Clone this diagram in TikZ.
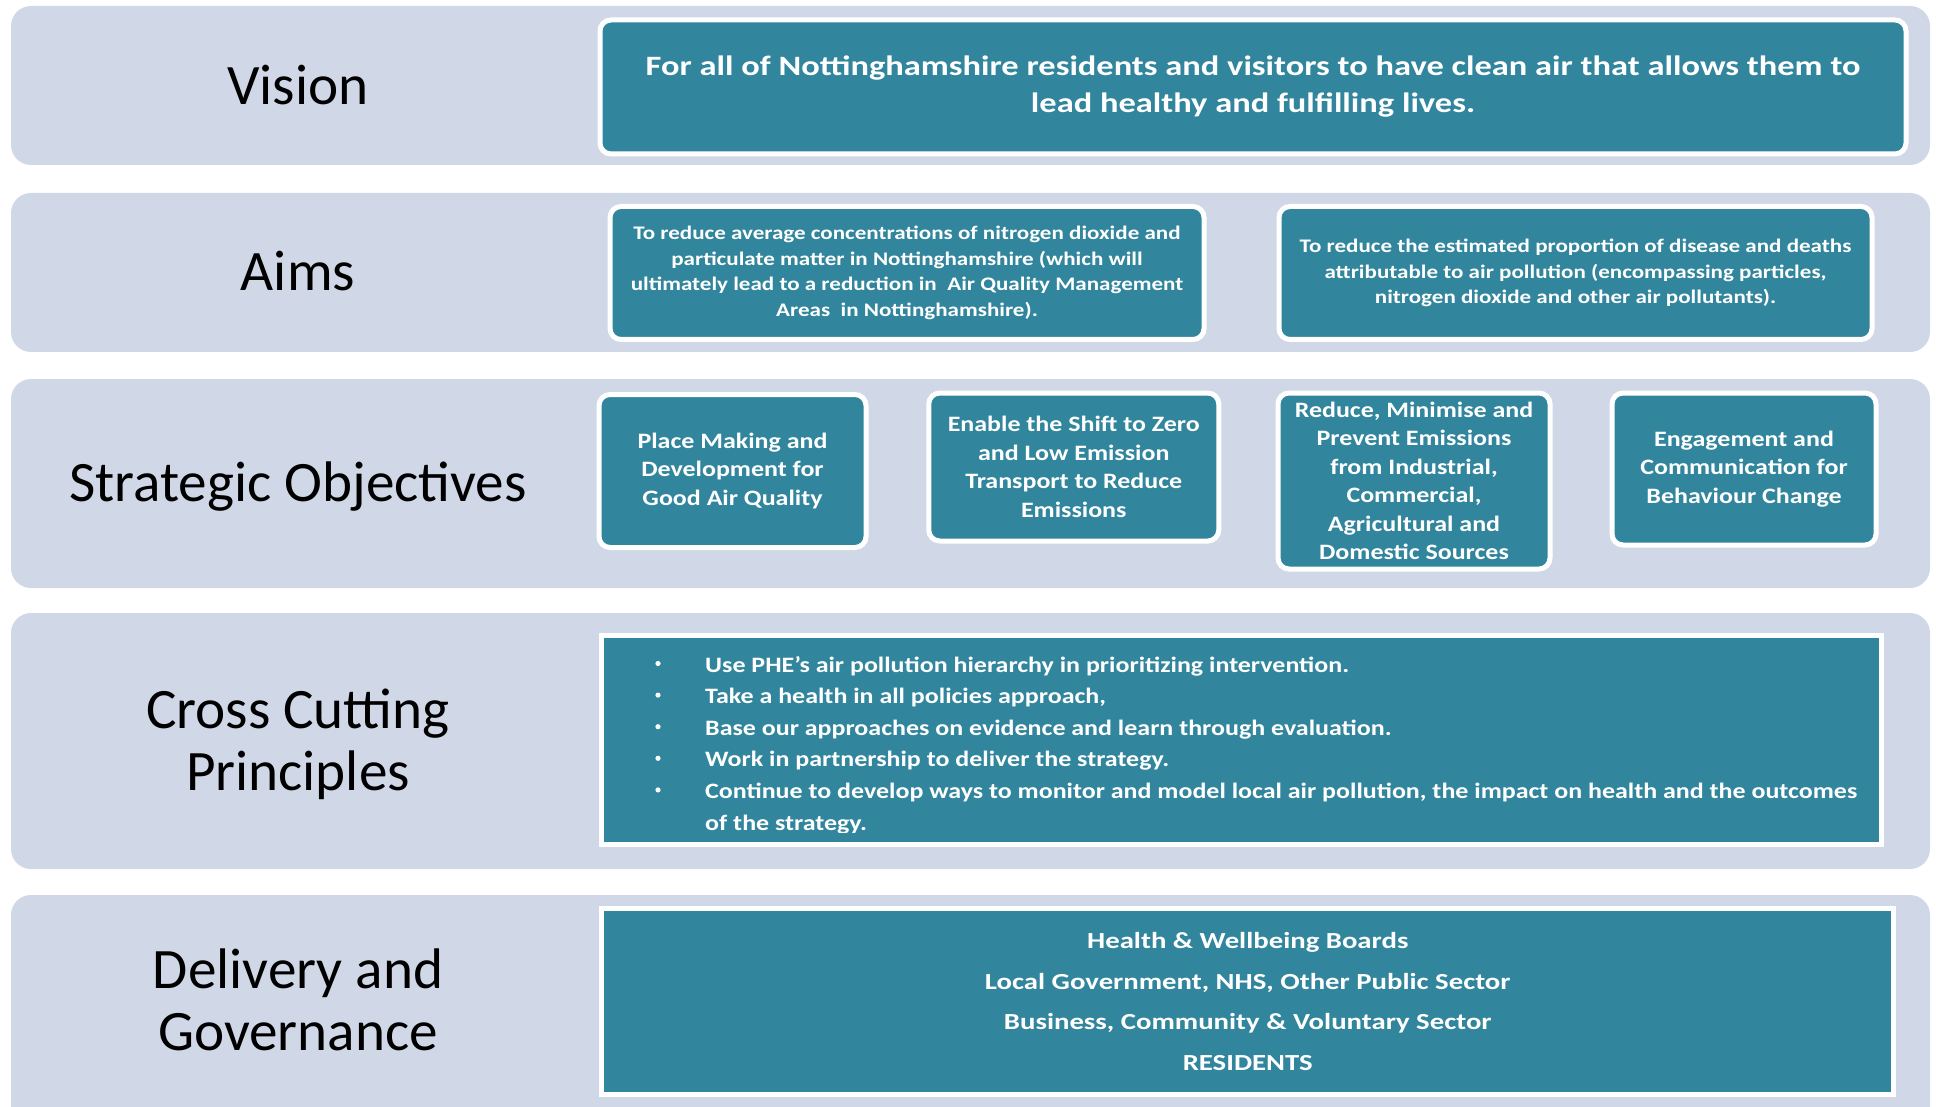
\documentclass[tikz,border=0pt]{standalone}
\usepackage{fontspec}
\setmainfont{Carlito}
\newfontfamily\stvis[FakeStretch=1.23]{Carlito}
\newfontfamily\staim[FakeStretch=1.2]{Carlito}
\newfontfamily\stso[FakeStretch=1.18]{Carlito}
\newfontfamily\stcc[FakeStretch=1.18]{Carlito}
\newfontfamily\stdg[FakeStretch=1.25]{Carlito}
\definecolor{bandc}{HTML}{D0D8E7}
\definecolor{boxteal}{HTML}{31859C}
\tikzset{
  bandbox/.style={fill=bandc, rounded corners=20pt},
  tbox/.style={fill=boxteal, draw=white, line width=5pt, rounded corners=11pt, inner sep=0pt, text=white, align=center},
  sbox/.style={fill=boxteal, draw=white, line width=5pt, inner sep=0pt, text=white},
  lbl/.style={font=\fontsize{57.2}{62}\selectfont, align=center, inner sep=0pt},
}
\begin{document}
\begin{tikzpicture}[x=1pt,y=-1pt]
\useasboundingbox (0,0) rectangle (1936,1107);
\clip (0,0) rectangle (1936,1107);
% bands
\fill[bandbox] (11,6) rectangle (1930,165);
\fill[bandbox] (11,193) rectangle (1930,352);
\fill[bandbox] (11,379) rectangle (1930,588);
\fill[bandbox] (11,613) rectangle (1930,869);
\fill[bandbox] (11,895) rectangle (1930,1140);
% labels
\node[lbl] (lvision) at (298,85) {Vision};
\node[lbl] (laims) at (298,271) {Aims};
\node[lbl] (lso) at (298,486.5) {Strategic Objectives};
\node[lbl] (lcc) at (298,744) {Cross Cutting\\Principles};
\node[lbl] (ldg) at (298,1000) {Delivery and\\Governance};
% vision
\node[tbox, minimum width=1306pt, minimum height=134pt, font=\stvis\bfseries\fontsize{28}{37}\selectfont] (vision) at (1253,87)
 {For all of Nottinghamshire residents and visitors to have clean air that allows them to\\lead healthy and fulfilling lives.};
% aims
\node[tbox, minimum width=594pt, minimum height=133pt, font=\staim\bfseries\fontsize{19.2}{25.5}\selectfont] (aim1) at (907,273)
 {To reduce average concentrations of nitrogen dioxide and\\particulate matter in Nottinghamshire (which will\\ultimately lead to a reduction in\ \ Air Quality Management\\Areas\ \ in Nottinghamshire).};
\node[tbox, minimum width=593pt, minimum height=133pt, font=\staim\bfseries\fontsize{19.2}{25.5}\selectfont] (aim2) at (1575.5,273)
 {To reduce the estimated proportion of disease and deaths\\attributable to air pollution (encompassing particles,\\nitrogen dioxide and other air pollutants).};
% strategic objectives
\tikzset{sofont/.style={font=\stso\bfseries\fontsize{22}{28.5}\selectfont}}
\node[tbox, sofont, minimum width=267pt, minimum height=153pt] (so1) at (732.5,471)
 {Place Making and\\Development for\\Good Air Quality};
\node[tbox, sofont, minimum width=290pt, minimum height=148pt] (so2) at (1073.75,467)
 {Enable the Shift to Zero\\and Low Emission\\Transport to Reduce\\Emissions};
\node[tbox, sofont, minimum width=272pt, minimum height=176pt] (so3) at (1414,481)
 {Reduce, Minimise and\\Prevent Emissions\\from Industrial,\\Commercial,\\Agricultural and\\Domestic Sources};
\node[tbox, sofont, minimum width=264pt, minimum height=152pt] (so4) at (1744,469)
 {Engagement and\\Communication for\\Behaviour Change};
% cross cutting
\node[sbox, minimum width=1280pt, minimum height=209pt] (cc) at (1241.75,740.25) {};
\begin{scope}
\clip (604,638) rectangle (1879,832);
\tikzset{bul/.style={anchor=base west, inner sep=0pt, text=white, font=\stcc\bfseries\fontsize{22}{31.6}\selectfont}}
\foreach \yy/\tt [count=\i] in {672/{Use PHE’s air pollution hierarchy in prioritizing intervention.},
  703.6/{Take a health in all policies approach,},
  735.2/{Base our approaches on evidence and learn through evaluation.},
  766.8/{Work in partnership to deliver the strategy.},
  798.4/{Continue to develop ways to monitor and model local air pollution, the impact on health and the outcomes}} {
  \node[bul] (cct\i) at (705,\yy) {\tt};
  \fill[white] (658,\yy-8.5) circle (2.6pt);
}
\node[bul] (cct6) at (705,830) {of the strategy.};
\end{scope}
% delivery
\node[sbox, minimum width=1292pt, minimum height=186pt, align=center, font=\stdg\bfseries\fontsize{23}{40.5}\selectfont] (dg) at (1247.75,1001.5)
 {Health \& Wellbeing Boards\\Local Government, NHS, Other Public Sector\\Business, Community \& Voluntary Sector\\RESIDENTS};
\end{tikzpicture}
\end{document}
